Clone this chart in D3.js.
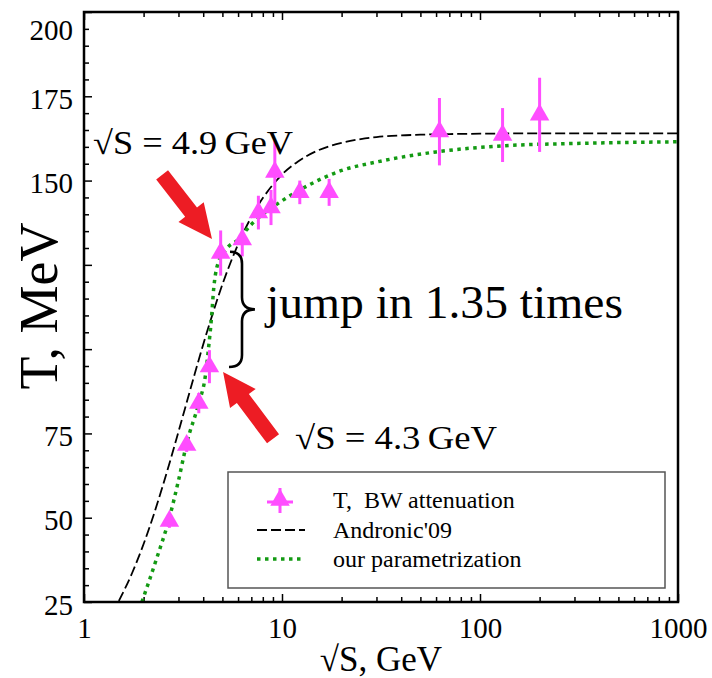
<!DOCTYPE html>
<html>
<head>
<meta charset="utf-8">
<title>T vs sqrt(s)</title>
<script src="https://cdn.jsdelivr.net/npm/d3@7"></script>
<style>
  body { margin: 0; background: #fff; }
  text { font-family: "Liberation Serif", "Times New Roman", serif; fill: #000; }
  .tick line { stroke: #000; stroke-width: 1.5; }
</style>
</head>
<body>
<div id="chart"></div>
<script>
var sqrtS = [2.7, 3.3, 3.8, 4.3, 4.9, 6.3, 7.6, 8.8, 9.2, 12.3, 17.3, 62.4, 130, 200];
var temp  = [49, 71.5, 84, 94.8, 128.5, 132.5, 140.5, 142, 152.5, 146.5, 146.5, 164.5, 163.5, 169.5];
var tErr  = [2, 2, 3, 4.9, 6.7, 5, 5, 5.2, 9.4, 3.5, 4, 10, 8, 11];

// Andronic'09 curve
var andronicS = [1.5, 1.75, 2, 2.25, 2.5, 2.75, 3, 3.5, 4, 4.5, 5, 5.5, 6, 7, 8, 9, 10, 12, 15, 20, 25, 30, 40, 50, 70, 100, 200, 500, 1000];
var andronicT = [25.3, 33.6, 42.2, 50.9, 59.5, 67.7, 75.5, 89.5, 101.4, 111.1, 119.2, 125.7, 131.1, 139.2, 144.8, 148.8, 151.8, 155.6, 158.8, 161.2, 162.3, 162.9, 163.4, 163.6, 163.8, 163.9, 164, 164, 164];

// our parametrization
var ourS = [1.96, 2.3, 2.7, 3.0, 3.3, 3.8, 4.1, 4.25, 4.4, 4.52, 4.7, 5.2, 6, 7, 8, 10, 14, 20, 30, 60, 130, 300, 1000];
var ourT = [25, 37, 50, 61, 72, 84, 92, 100, 109, 118, 124.5, 129.5, 132.5, 137, 140, 144, 149, 153, 155.5, 158.5, 160.3, 161, 161.5];

var xMajor = [1, 10, 100, 1000];
var xMinor = [2, 3, 4, 5, 6, 7, 8, 9, 20, 30, 40, 50, 60, 70, 80, 90, 200, 300, 400, 500, 600, 700, 800, 900];
var yMajor = [25, 50, 75, 100, 125, 150, 175, 200];
var yMajorLabels = ["25", "50", "75", "", "", "150", "175", "200"];
var yMinor = d3.range(30, 200, 5).filter(function(v) { return v % 25 != 0; });

var legendLabels = ["T,  BW attenuation", "Andronic'09", "our parametrization"];

var W = 712, H = 678;
var pL = 84, pR = 678, pT = 12, pB = 602;
var magenta = "#ff4dff", green = "#139a13", red = "#ed1c24";

var svg = d3.select("#chart").append("svg")
    .attr("width", W)
    .attr("height", H);

svg.append("rect").attr("width", W).attr("height", H).attr("fill", "#fff");

var x = d3.scaleLog().domain([1, 1000]).range([pL, pR]);
var y = d3.scaleLinear().domain([25, 200]).range([pB, pT]);

// axes, ticks pointing inward
svg.append("g").attr("transform", "translate(0," + pB + ")")
    .call(d3.axisBottom(x).tickValues(xMajor).tickFormat(d3.format("d")).tickSize(-8).tickPadding(15));
svg.append("g").attr("transform", "translate(0," + pB + ")")
    .call(d3.axisBottom(x).tickValues(xMinor).tickFormat("").tickSize(-5));
svg.append("g").attr("transform", "translate(0," + pT + ")")
    .call(d3.axisTop(x).tickValues(xMajor).tickFormat("").tickSize(-8));
svg.append("g").attr("transform", "translate(0," + pT + ")")
    .call(d3.axisTop(x).tickValues(xMinor).tickFormat("").tickSize(-5));
var gL = svg.append("g").attr("transform", "translate(" + pL + ",0)")
    .call(d3.axisLeft(y).tickValues(yMajor).tickFormat(function(d, i) { return yMajorLabels[i]; }).tickSize(-8).tickPadding(11));
svg.append("g").attr("transform", "translate(" + pL + ",0)")
    .call(d3.axisLeft(y).tickValues(yMinor).tickFormat("").tickSize(-5));

svg.selectAll(".domain").remove();
svg.selectAll(".tick text")
    .attr("font-family", "Liberation Serif, Times New Roman, serif")
    .attr("font-size", 29)
    .attr("fill", "#000");
gL.selectAll(".tick text").attr("dy", "0.42em");
gL.selectAll(".tick text").filter(function(d) { return d == 200; }).attr("dy", "0.95em");

svg.append("clipPath").attr("id", "plot")
  .append("rect").attr("x", pL).attr("y", pT).attr("width", pR - pL).attr("height", pB - pT);

var line = d3.line()
    .x(function(d) { return x(d[0]); })
    .y(function(d) { return y(d[1]); })
    .curve(d3.curveMonotoneX);

var curves = svg.append("g").attr("clip-path", "url(#plot)");
curves.append("path")
    .attr("d", line(d3.zip(andronicS, andronicT)))
    .attr("fill", "none").attr("stroke", "#000").attr("stroke-width", 1.8)
    .attr("stroke-dasharray", "10,4");
curves.append("path")
    .attr("d", line(d3.zip(ourS, ourT)))
    .attr("fill", "none").attr("stroke", green).attr("stroke-width", 3.5)
    .attr("stroke-dasharray", "3.5,4.5");

// data points with error bars
var pts = d3.zip(sqrtS, temp, tErr);
var pg = svg.append("g");
pg.selectAll("line.err").data(pts).enter().append("line")
    .attr("class", "err")
    .attr("x1", function(d) { return x(d[0]); })
    .attr("x2", function(d) { return x(d[0]); })
    .attr("y1", function(d) { return y(d[1] - d[2]); })
    .attr("y2", function(d) { return y(d[1] + d[2]); })
    .attr("stroke", magenta).attr("stroke-width", 3);
var tri = d3.symbol().type(d3.symbolTriangle).size(165);
pg.selectAll("path.pt").data(pts).enter().append("path")
    .attr("class", "pt")
    .attr("transform", function(d) { return "translate(" + x(d[0]) + "," + y(d[1]) + ")"; })
    .attr("d", tri)
    .attr("fill", magenta);

// frame
svg.append("rect")
    .attr("x", pL).attr("y", pT)
    .attr("width", pR - pL).attr("height", pB - pT)
    .attr("fill", "none").attr("stroke", "#000").attr("stroke-width", 2.5);

// red arrows
function arrow(x0, y0, x1, y1, sw, hw, hl) {
  var dx = x1 - x0, dy = y1 - y0, L = Math.hypot(dx, dy);
  var ux = dx / L, uy = dy / L, px = -uy, py = ux;
  var bx = x1 - ux * hl, by = y1 - uy * hl;
  return [
    [x0 + px * sw / 2, y0 + py * sw / 2],
    [bx + px * sw / 2, by + py * sw / 2],
    [bx + px * hw / 2, by + py * hw / 2],
    [x1, y1],
    [bx - px * hw / 2, by - py * hw / 2],
    [bx - px * sw / 2, by - py * sw / 2],
    [x0 - px * sw / 2, y0 - py * sw / 2]
  ];
}
svg.append("polygon")
    .attr("points", arrow(x(2.48), y(151.7), x(4.43), y(132.7), 15, 32, 34).join(" "))
    .attr("fill", red);
svg.append("polygon")
    .attr("points", arrow(x(9.01), y(73.4), x(5.04), y(93.2), 15, 32, 33).join(" "))
    .attr("fill", red);

// curly brace
var bx = x(6.28), bTop = y(128.9), bBot = y(94.7), bTip = x(7.3), bMid = (bTop + bBot) / 2;
svg.append("path")
    .attr("d", "M" + (bx - 12) + "," + bTop +
      " Q" + bx + "," + bTop + " " + bx + "," + (bTop + 12) +
      " L" + bx + "," + (bMid - 12) +
      " Q" + bx + "," + bMid + " " + bTip + "," + bMid +
      " Q" + bx + "," + bMid + " " + bx + "," + (bMid + 12) +
      " L" + bx + "," + (bBot - 12) +
      " Q" + bx + "," + bBot + " " + (bx - 13) + "," + bBot)
    .attr("fill", "none").attr("stroke", "#000").attr("stroke-width", 2.6);

// annotations
svg.append("text").attr("x", 93).attr("y", 154)
    .attr("font-size", 33).attr("textLength", 200).attr("lengthAdjust", "spacingAndGlyphs")
    .text("\u221AS = 4.9\u2009GeV");
svg.append("text").attr("x", 295).attr("y", 449)
    .attr("font-size", 33).attr("textLength", 202).attr("lengthAdjust", "spacingAndGlyphs")
    .text("\u221AS = 4.3\u2009GeV");
svg.append("text").attr("x", 266).attr("y", 318)
    .attr("font-size", 47).attr("textLength", 357).attr("lengthAdjust", "spacingAndGlyphs")
    .text("jump in 1.35 times");

// axis titles
svg.append("text")
    .attr("transform", "translate(57,306) rotate(-90)")
    .attr("text-anchor", "middle")
    .attr("font-size", 54)
    .text("T, MeV");
svg.append("text")
    .attr("x", (pL + pR) / 2).attr("y", 671)
    .attr("text-anchor", "middle")
    .attr("font-size", 35)
    .text("\u221AS, GeV");

// legend
var lg = svg.append("g");
lg.append("rect")
    .attr("x", 228).attr("y", 472).attr("width", 437).attr("height", 116)
    .attr("fill", "#fff").attr("stroke", "#555").attr("stroke-width", 1.5);
var rows = [500, 530, 559];
lg.append("line").attr("x1", 280).attr("x2", 280).attr("y1", rows[0] - 12).attr("y2", rows[0] + 13)
    .attr("stroke", magenta).attr("stroke-width", 3);
lg.append("line").attr("x1", 267).attr("x2", 293).attr("y1", rows[0] + 2).attr("y2", rows[0] + 2)
    .attr("stroke", magenta).attr("stroke-width", 3);
lg.append("path").attr("transform", "translate(280," + rows[0] + ")").attr("d", tri).attr("fill", magenta);
lg.append("line").attr("x1", 257).attr("x2", 305).attr("y1", rows[1]).attr("y2", rows[1])
    .attr("stroke", "#000").attr("stroke-width", 1.8).attr("stroke-dasharray", "10,4");
lg.append("line").attr("x1", 257).attr("x2", 304).attr("y1", rows[2]).attr("y2", rows[2])
    .attr("stroke", green).attr("stroke-width", 3.5).attr("stroke-dasharray", "3.5,4.5");
lg.selectAll("text.lab").data(legendLabels).enter().append("text")
    .attr("class", "lab")
    .attr("x", 333)
    .attr("y", function(d, i) { return rows[i] + 8; })
    .attr("font-size", 24)
    .attr("xml:space", "preserve")
    .style("white-space", "pre")
    .text(function(d) { return d; });
</script>
</body>
</html>
